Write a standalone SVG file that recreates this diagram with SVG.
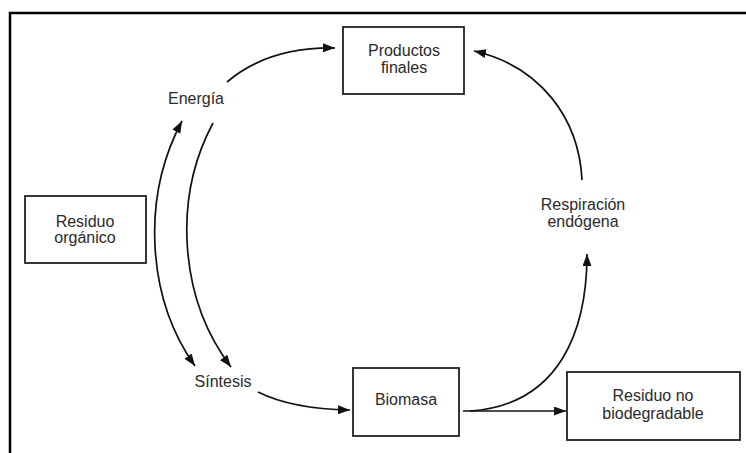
<svg xmlns="http://www.w3.org/2000/svg" width="746" height="453" viewBox="0 0 746 453">
<style>
.box{fill:#fff;stroke:#222;stroke-width:1.8}
.t{font-family:"Liberation Sans",Arial,sans-serif;font-size:16px;fill:#2a2a2a;text-anchor:middle}
.c{fill:none;stroke:#111;stroke-width:1.7}
.frame{stroke:#000;stroke-width:2.5;fill:none}
</style>
<defs>
<marker id="ah" markerUnits="userSpaceOnUse" markerWidth="13" markerHeight="10" refX="12" refY="4.5" orient="auto-start-reverse">
<path d="M0,0 L12,4.5 L0,9 z" fill="#111"/>
</marker>
</defs>
<rect width="746" height="453" fill="#fff"/>
<path class="frame" d="M10,453 L10,13 L746,13"/>
<g id="connectors">
<path class="c" d="M227,82 Q268,47 335,48" marker-end="url(#ah)"/>
<path class="c" d="M582,180 C579,118 540,66 474,51" marker-end="url(#ah)"/>
<path class="c" d="M470,411 C560,405 587,330 587,254" marker-end="url(#ah)"/>
<path class="c" d="M463,411 L566,411" marker-end="url(#ah)"/>
<path class="c" d="M258,392 Q292,409 350,410" marker-end="url(#ah)"/>
<path class="c" d="M182,121 C140,200 148,300 195,366" marker-start="url(#ah)" marker-end="url(#ah)"/>
<path class="c" d="M213,123 C172,200 180,300 231,367" marker-end="url(#ah)"/>
</g>
<g id="productos-finales">
<rect class="box" x="343" y="27" width="121" height="67"/>
<text class="t" x="404" y="56">Productos</text>
<text class="t" x="404" y="73">finales</text>
</g>
<g id="residuo-organico">
<rect class="box" x="25" y="196" width="121" height="67"/>
<text class="t" x="85" y="227">Residuo</text>
<text class="t" x="85" y="243">orgánico</text>
</g>
<g id="energia">
<text class="t" x="196" y="104">Energía</text>
</g>
<g id="sintesis">
<text class="t" x="223" y="387">Síntesis</text>
</g>
<g id="biomasa">
<rect class="box" x="353" y="368" width="106" height="68"/>
<text class="t" x="406" y="405">Biomasa</text>
</g>
<g id="respiracion">
<text class="t" x="583" y="210">Respiración</text>
<text class="t" x="583" y="227">endógena</text>
</g>
<g id="residuo-no-biodegradable">
<rect class="box" x="567" y="372" width="173" height="68"/>
<text class="t" x="653" y="401">Residuo no</text>
<text class="t" x="653" y="419">biodegradable</text>
</g>
</svg>
